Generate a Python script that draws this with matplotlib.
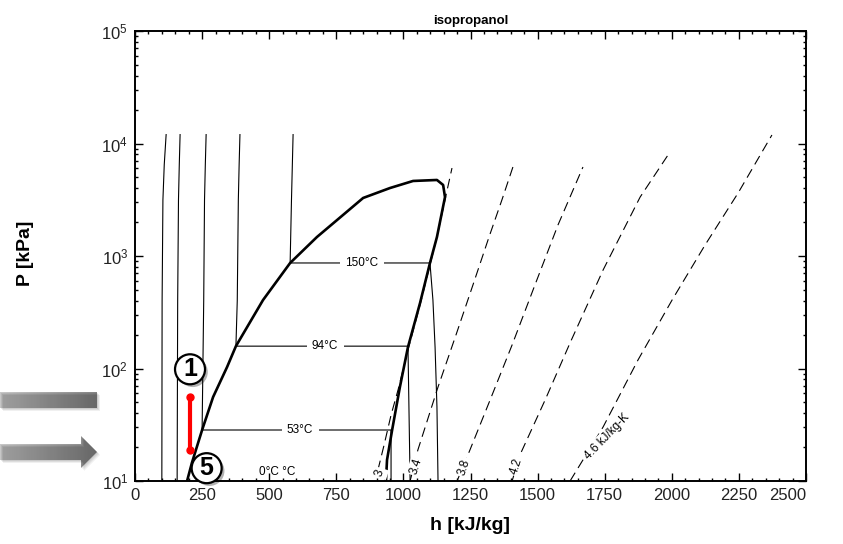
import numpy as np
import matplotlib.pyplot as plt
from matplotlib.patches import Polygon
from matplotlib.colors import LinearSegmentedColormap
from matplotlib.ticker import MultipleLocator, LogLocator, NullFormatter
import matplotlib.patheffects as pe

plt.rcParams['font.family'] = ['Liberation Sans', 'DejaVu Sans']
plt.rcParams['mathtext.default'] = 'regular'
plt.rcParams['lines.scale_dashes'] = False

# SATURATION DOME: liquid line up to the critical point, then vapour line down
dome_h = [194, 212, 250, 291, 343, 376, 477, 578, 678, 753, 850, 950,
          1036, 1125, 1148, 1155, 1125, 1099, 1062, 1017, 987, 958, 939, 935]
dome_P = [10, 14.5, 28.4, 55.8, 103, 158, 406, 867, 1476, 2090, 3280, 4020,
          4645, 4740, 4280, 3340, 1476, 867, 382, 155, 68.5, 28.4, 15.4, 10]

# ISOTHERMS (h in kJ/kg, P in kPa)
iso_cold_h = [100, 101, 104, 109, 116]
iso_cold_P = [10, 400, 3150, 6500, 12000]
iso_0_h = [157, 159, 162, 165, 168]
iso_0_P = [10, 400, 3150, 6500, 12000]
iso_53_h = [265, 262, 259, 256, 250, 954, 954]
iso_53_P = [12000, 6500, 3150, 400, 28.4, 28.4, 10]
iso_94_h = [391, 388, 385, 381, 376, 1017, 1025]
iso_94_P = [12000, 6500, 3150, 400, 158, 158, 10]
iso_150_h = [589, 583, 578, 1099, 1110, 1118, 1125, 1129]
iso_150_P = [12000, 3150, 867, 867, 406, 155, 45.5, 10]

# ISENTROPES (kJ/kg-K)
s_30_h = [905, 928, 954, 980, 1017, 1062, 1099, 1125, 1151, 1163, 1181]
s_30_P = [12.5, 20.9, 38.6, 64.4, 146, 367, 832, 1476, 2840, 3860, 6050]
s_34_h = [1025, 1054, 1129, 1196, 1259, 1319, 1367, 1408]
s_34_P = [10, 18.9, 68.5, 199, 552, 1476, 3150, 6180]
s_38_h = [1200, 1248, 1323, 1405, 1490, 1576, 1669]
s_38_P = [10, 18.9, 52.5, 162, 552, 1888, 6180]
s_42_h = [1405, 1434, 1528, 1621, 1744, 1882, 1986]
s_42_P = [10, 17.0, 52.5, 169, 751, 3340, 7910]
s_46_h = [1621, 1744, 1874, 2001, 2124, 2247, 2373]
s_46_P = [10, 30.2, 119, 406, 1253, 3630, 11900]

# LABELS
iso_labels = ["150°C", "94°C", "53°C", "0°C °C"]
iso_label_h = [846, 708, 615, 529]
iso_label_P = [867, 158, 28.4, 12.0]
s_labels = ["3", "3.4", "3.8", "4.2"]
s_label_h = [913, 1049, 1225, 1420]
s_label_P = [11.8, 13.6, 13.3, 13.6]

# PROCESS 5 -> 1 (pump)
pump_h = [205, 205]
pump_P = [55.8, 18.9]
state_names = ["1", "5"]
state_h = [205, 267]
state_P = [98.4, 13.0]

W, H = 843, 544
fig = plt.figure(figsize=(W / 100, H / 100), dpi=100)

# grey arrows on the left margin, drawn in pixel units
ov = fig.add_axes([0, 0, 1, 1])
ov.set_xlim(0, W)
ov.set_ylim(H, 0)
ov.axis('off')
ov.patch.set_visible(False)
grey = LinearSegmentedColormap.from_list('grey', ['#c8c8c8', '#848484'])
grad = np.linspace(0, 1, 256).reshape(1, -1)
bar = [(0, 392), (97, 392), (97, 408), (0, 408)]
arrow = [(0, 444), (81, 444), (81, 436), (97, 452), (81, 468), (81, 460), (0, 460)]
for shape in (bar, arrow):
    for off, a in ((3, 0.06), (2, 0.08), (1, 0.08)):
        shadow = Polygon([(x + off, y + off) for x, y in shape], closed=True,
                         fc='black', ec='none', alpha=a)
        ov.add_patch(shadow)
    poly = Polygon(shape, closed=True, fc='none', ec='none')
    ov.add_patch(poly)
    ys = [p[1] for p in shape]
    img = ov.imshow(grad, cmap=grey, aspect='auto',
                    extent=(0, 97, max(ys), min(ys)))
    img.set_clip_path(poly)
ov.set_xlim(0, W)
ov.set_ylim(H, 0)

ax = fig.add_axes([135 / W, 1 - 481 / H, (806 - 135) / W, (481 - 31) / H])
ax.set_yscale('log')

thin = dict(color='black', lw=0.8)
for h, P in [(iso_cold_h, iso_cold_P), (iso_0_h, iso_0_P), (iso_53_h, iso_53_P),
             (iso_94_h, iso_94_P), (iso_150_h, iso_150_P)]:
    ax.plot(h, P, **thin, zorder=2)

for h, P in [(s_30_h, s_30_P), (s_34_h, s_34_P), (s_38_h, s_38_P),
             (s_42_h, s_42_P), (s_46_h, s_46_P)]:
    ax.plot(h, P, color='black', lw=0.8, dashes=(7, 4), zorder=2)

ax.plot(dome_h, dome_P, color='black', lw=1.9, zorder=3)

box = dict(boxstyle='square,pad=0.45', fc='white', ec='none')
for txt, h, P in zip(iso_labels[:3], iso_label_h[:3], iso_label_P[:3]):
    ax.text(h, P, txt, fontsize=8.5, ha='center', va='center', bbox=box, zorder=4)
ax.text(iso_label_h[3], iso_label_P[3], iso_labels[3], fontsize=8.5,
        ha='center', va='center', zorder=4)

sbox = dict(boxstyle='square,pad=0.15', fc='white', ec='none')
for txt, h, P in zip(s_labels, s_label_h, s_label_P):
    ax.text(h, P, txt, fontsize=8.5, rotation=72, ha='center', va='center',
            rotation_mode='anchor', bbox=sbox, zorder=4)
ax.text(1759, 24.6, "4.6 kJ/kg-K", fontsize=8.5, rotation=46, ha='center',
        va='center', rotation_mode='anchor', bbox=sbox, zorder=4)

ax.plot(pump_h, pump_P, color='#ff0000', lw=3, marker='o', ms=5, zorder=5)

for name, h, P in zip(state_names, state_h, state_P):
    t = ax.text(h, P, name, fontsize=18, fontweight='bold', ha='center',
                va='center', zorder=6,
                bbox=dict(boxstyle='circle,pad=0.12', fc='white', ec='black', lw=1.6))
    t.get_bbox_patch().set_path_effects([
        pe.SimplePatchShadow(offset=(2, -2), shadow_rgbFace='black', alpha=0.3),
        pe.Normal()])

ax.set_xlim(0, 2500)
ax.set_ylim(10, 1e5)
ax.set_xticks(np.arange(0, 2501, 250))
ax.xaxis.set_minor_locator(MultipleLocator(50))
ax.yaxis.set_major_locator(LogLocator(base=10, numticks=10))
ax.yaxis.set_minor_locator(LogLocator(base=10, subs=np.arange(2, 10), numticks=10))
ax.yaxis.set_minor_formatter(NullFormatter())
ax.tick_params(which='both', direction='in', top=True, right=True,
               labelsize=12, labelcolor='#222222', width=1)
ax.tick_params(which='major', length=6, pad=5)
ax.tick_params(which='minor', length=2.5)
ax.get_xticklabels()[-1].set_horizontalalignment('right')
for sp in ax.spines.values():
    sp.set_linewidth(1.4)

ax.set_title("isopropanol", fontsize=9.5, fontweight='bold', pad=5)
ax.set_xlabel("h [kJ/kg]", fontsize=14, fontweight='bold')
ax.set_ylabel("P [kPa]", fontsize=14, fontweight='bold')
ax.xaxis.set_label_coords(0.5, -0.08)
ax.yaxis.set_label_coords(-0.15, 0.507)

fig.savefig("out.png", dpi=100)
